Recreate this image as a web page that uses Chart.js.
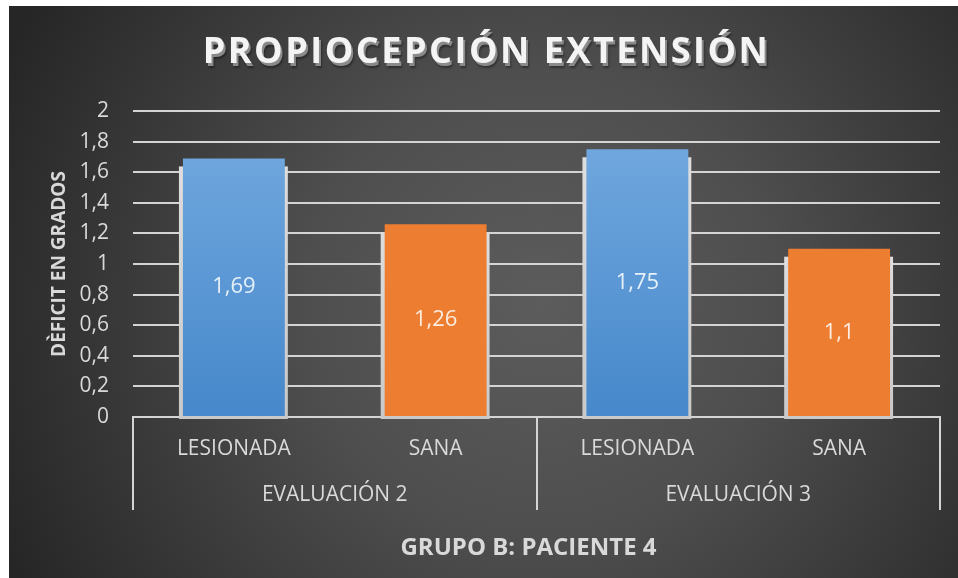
<!DOCTYPE html>
<html><head><meta charset="utf-8">
<script src="https://cdn.jsdelivr.net/npm/chart.js@4"></script>
<style>
html,body{margin:0;padding:0;background:#fff;}
#wrap{position:absolute;left:9px;top:6px;width:949px;height:572px;}
</style></head><body>
<div id="wrap"><canvas id="c" width="949" height="572"></canvas></div>
<script>
// ---- data ----
const titleText = 'PROPIOCEPCIÓN EXTENSIÓN';
const yAxisTitle = 'DÈFICIT EN GRADOS';
const xAxisTitle = 'GRUPO B: PACIENTE 4';
const categories = ['LESIONADA', 'SANA', 'LESIONADA', 'SANA'];
const groups = ['EVALUACIÓN 2', 'EVALUACIÓN 3'];
const values = [1.69, 1.26, 1.75, 1.1];
const yMin = 0, yMax = 2, yStep = 0.2;

// ---- styles ----
const FONT = '"Open Sans", Lato, sans-serif';
const TEXT = '#d9d9d9';
const GRID = '#d4d4d4';
const fmt = v => Number(Number(v).toFixed(2)).toLocaleString('es-ES');

const bgPlugin = {
  id: 'bg',
  beforeDraw(chart) {
    const {ctx, width, height} = chart;
    const g = ctx.createRadialGradient(width * 0.56, height * 0.52, 0, width * 0.56, height * 0.52, width * 0.62);
    g.addColorStop(0, '#5c5c5c');
    g.addColorStop(0.4, '#4e4e4e');
    g.addColorStop(1, '#262626');
    ctx.save();
    ctx.fillStyle = g;
    ctx.fillRect(0, 0, width, height);
    ctx.restore();
  }
};

const shadowPlugin = {
  id: 'barShadow',
  beforeDatasetsDraw(chart) {
    const {ctx} = chart;
    ctx.save();
    chart.getDatasetMeta(0).data.forEach(el => {
      const p = el.getProps(['x', 'y', 'base', 'width'], true);
      const g = ctx.createLinearGradient(0, p.y, 0, p.base);
      g.addColorStop(0, '#dedede');
      g.addColorStop(1, '#c9c9c9');
      ctx.fillStyle = g;
      ctx.fillRect(p.x - p.width / 2 - 4, p.y + 8, p.width + 7, p.base - p.y - 5);
    });
    ctx.restore();
  }
};

const labelPlugin = {
  id: 'valueLabels',
  afterDatasetsDraw(chart) {
    const {ctx} = chart;
    ctx.save();
    ctx.font = '22px ' + FONT;
    ctx.fillStyle = 'rgba(255,255,255,0.85)';
    ctx.textAlign = 'center';
    ctx.textBaseline = 'middle';
    chart.getDatasetMeta(0).data.forEach((el, i) => {
      const p = el.getProps(['x', 'y', 'base'], true);
      ctx.fillText(fmt(values[i]), p.x, (p.y + p.base) / 2);
    });
    ctx.restore();
  }
};

const groupLinesPlugin = {
  id: 'groupLines',
  afterDraw(chart) {
    const {ctx} = chart;
    const x = chart.scales.x;
    const x2 = chart.scales.x2;
    ctx.save();
    ctx.strokeStyle = GRID;
    ctx.lineWidth = 2;
    [-0.5, 1.5, 3.5].forEach(v => {
      const px = Math.round(x.getPixelForValue(v));
      ctx.beginPath();
      ctx.moveTo(px, x.top);
      ctx.lineTo(px, x2.top + 33);
      ctx.stroke();
    });
    // x axis title
    ctx.font = 'bold 24px ' + FONT;
    ctx.fillStyle = TEXT;
    ctx.textAlign = 'center';
    ctx.textBaseline = 'middle';
    ctx.fillText(xAxisTitle, (x2.left + x2.right) / 2 - 8, x2.bottom - 30);
    ctx.restore();
  }
};

const titlePlugin = {
  id: 'fancyTitle',
  afterDraw(chart) {
    const {ctx, width} = chart;
    ctx.save();
    ctx.font = 'bold 36px ' + FONT;
    try { ctx.letterSpacing = '2.5px'; } catch (e) {}
    ctx.textAlign = 'center';
    ctx.textBaseline = 'middle';
    ctx.fillStyle = '#8a8a8a';
    ctx.shadowColor = 'rgba(0,0,0,0.35)';
    ctx.shadowBlur = 2;
    ctx.shadowOffsetX = 1;
    ctx.shadowOffsetY = 2;
    ctx.fillText(titleText, width / 2 + 5, 50);
    ctx.shadowColor = 'transparent';
    ctx.fillStyle = '#f4f4f4';
    ctx.fillText(titleText, width / 2 + 3, 47);
    ctx.restore();
  }
};

const ctx = document.getElementById('c').getContext('2d');
new Chart(ctx, {
  type: 'bar',
  data: {
    labels: categories,
    datasets: [{
      data: values,
      backgroundColor(c) {
        const ca = c.chart.chartArea;
        if (c.dataIndex % 2 === 1) return '#ed7d31';
        if (!ca) return '#5b9bd5';
        const g = c.chart.ctx.createLinearGradient(0, ca.top, 0, ca.bottom);
        g.addColorStop(0, '#75abe0');
        g.addColorStop(1, '#4688cb');
        return g;
      },
      borderWidth: 0,
      categoryPercentage: 1,
      barPercentage: 0.505
    }]
  },
  options: {
    responsive: false,
    animation: false,
    devicePixelRatio: 1,
    locale: 'es-ES',
    layout: {padding: {top: 105, right: 18, left: 0, bottom: 0}},
    plugins: {legend: {display: false}, title: {display: false}, tooltip: {enabled: false}},
    scales: {
      y: {
        min: yMin, max: yMax,
        ticks: {stepSize: yStep, color: TEXT, font: {family: FONT, size: 21}, padding: 24, callback: v => fmt(v)},
        grid: {color: GRID, lineWidth: 2, drawTicks: false},
        border: {display: false},
        title: {display: true, text: yAxisTitle, color: TEXT, font: {family: FONT, size: 19, weight: 'bold'}, padding: {top: 39, bottom: 0}},
        afterFit(s) { s.width = 124; }
      },
      x: {
        offset: true,
        ticks: {color: TEXT, font: {family: FONT, size: 21}, padding: 19, maxRotation: 0},
        grid: {display: false, drawTicks: false},
        border: {display: true, color: GRID, width: 2},
        afterFit(s) { s.height = 60; }
      },
      x2: {
        type: 'category',
        position: 'bottom',
        labels: groups,
        offset: true,
        ticks: {color: TEXT, font: {family: FONT, size: 21}, padding: 5, maxRotation: 0},
        grid: {display: false, drawTicks: false},
        border: {display: false},
        title: {display: false},
        afterFit(s) { s.height = 101; }
      }
    }
  },
  plugins: [bgPlugin, shadowPlugin, labelPlugin, groupLinesPlugin, titlePlugin]
});
</script>
</body></html>
